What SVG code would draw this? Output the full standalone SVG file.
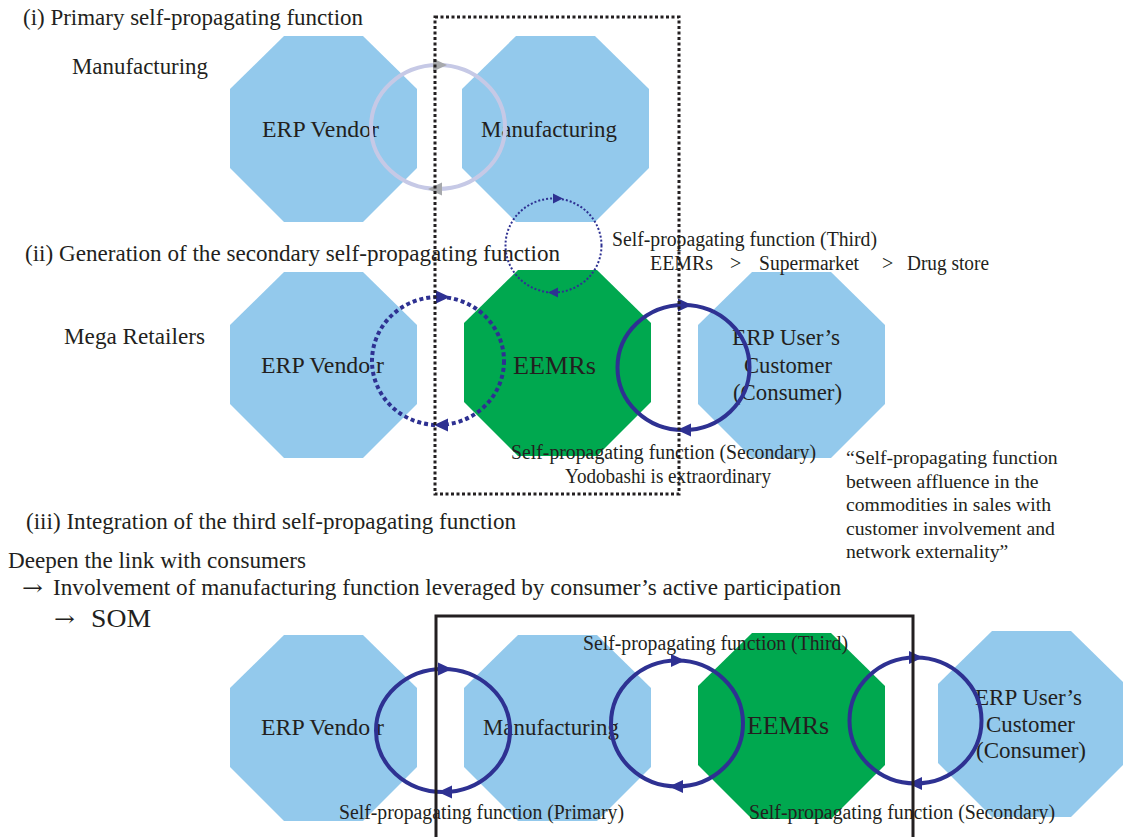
<svg xmlns="http://www.w3.org/2000/svg" xmlns:xlink="http://www.w3.org/1999/xlink" width="1123" height="837" viewBox="0 0 1123 837">
<style>
.oct-b{fill:#93c9ec}
.oct-g{fill:#00a84f}
text{font-family:"Liberation Serif","Times New Roman",serif;fill:#231f20}
.arw{font-family:"DejaVu Serif","Liberation Serif",serif;font-size:21px}
.h{font-size:23px}
.n{font-size:23px}
.e{font-size:26px}
.s{font-size:20px}
.q{font-size:19.7px}
.cyc{fill:none;stroke:#2e3192;stroke-width:4}
.dot1{fill:none;stroke:#2e3192;stroke-width:4;stroke-dasharray:4 3}
.dot2{fill:none;stroke:#2e3192;stroke-width:2;stroke-dasharray:2 2}
.lav{fill:none;stroke:#c6c9e6;stroke-width:4}
.ah{fill:#2e3192}
.ahg{fill:#a7a9ac}
</style>
<defs>
<path id="oct" d="M54,0 L133,0 L187,53 L187,132 L133,186 L54,186 L0,132 L0,53 Z"/>
<path id="ar" d="M7,0 L-7,-6.5 L-7,6.5 Z"/>
<path id="al" d="M-7,0 L7,-6.5 L7,6.5 Z"/>
<path id="ars" d="M5,0 L-5,-5 L-5,5 Z"/>
<path id="als" d="M-5,0 L5,-5 L5,5 Z"/>
</defs>
<rect width="1123" height="837" fill="#ffffff"/>

<!-- Row 1 -->
<g id="n1-erp-vendor">
<use xlink:href="#oct" href="#oct" class="oct-b" x="230" y="36"/>
<text class="n" x="262" y="137" textLength="117" lengthAdjust="spacingAndGlyphs">ERP Vendor</text>
</g>
<g id="n1-manufacturing">
<use xlink:href="#oct" href="#oct" class="oct-b" x="462" y="36"/>
<text class="n" x="481" y="137" textLength="136" lengthAdjust="spacingAndGlyphs">Manufacturing</text>
</g>

<!-- Row 2 -->
<g id="n2-erp-vendor">
<use xlink:href="#oct" href="#oct" class="oct-b" x="230" y="272"/>
<text class="n" x="261" y="373" textLength="123" lengthAdjust="spacingAndGlyphs">ERP Vendo r</text>
</g>
<g id="n2-eemrs">
<use xlink:href="#oct" href="#oct" class="oct-g" x="464" y="270"/>
<text class="e" x="513" y="374" textLength="83" lengthAdjust="spacingAndGlyphs">EEMRs</text>
</g>
<g id="n2-customer">
<use xlink:href="#oct" href="#oct" class="oct-b" x="698" y="272"/>
<text class="n" x="732" y="345" textLength="108" lengthAdjust="spacingAndGlyphs">ERP User’s</text>
<text class="n" x="744" y="373" textLength="88" lengthAdjust="spacingAndGlyphs">Customer</text>
<text class="n" x="733" y="400" textLength="109" lengthAdjust="spacingAndGlyphs">(Consumer)</text>
</g>

<!-- Row 3 -->
<g id="n3-erp-vendor">
<use xlink:href="#oct" href="#oct" class="oct-b" x="230" y="635"/>
<text class="n" x="261" y="735" textLength="123" lengthAdjust="spacingAndGlyphs">ERP Vendo r</text>
</g>
<g id="n3-manufacturing">
<use xlink:href="#oct" href="#oct" class="oct-b" x="464" y="635"/>
<text class="n" x="483" y="735" textLength="136" lengthAdjust="spacingAndGlyphs">Manufacturing</text>
</g>
<g id="n3-eemrs">
<use xlink:href="#oct" href="#oct" class="oct-g" x="698" y="633"/>
<text class="e" x="747" y="734" textLength="82" lengthAdjust="spacingAndGlyphs">EEMRs</text>
</g>
<g id="n3-customer">
<use xlink:href="#oct" href="#oct" class="oct-b" x="938" y="631"/>
<text class="n" x="975" y="705" textLength="107" lengthAdjust="spacingAndGlyphs">ERP User’s</text>
<text class="n" x="986" y="732" textLength="89" lengthAdjust="spacingAndGlyphs">Customer</text>
<text class="n" x="976" y="758" textLength="110" lengthAdjust="spacingAndGlyphs">(Consumer)</text>
</g>

<!-- Connectors (self-propagating cycles) -->
<g id="connectors">
<ellipse class="lav" cx="438" cy="127" rx="67" ry="62"/>
<use xlink:href="#ar" href="#ar" class="ahg" x="440" y="65"/>
<use xlink:href="#al" href="#al" class="ahg" x="435" y="189"/>

<ellipse class="dot2" cx="553.5" cy="245.5" rx="48" ry="47"/>
<use xlink:href="#ars" href="#ars" class="ah" x="558" y="198.5"/>
<use xlink:href="#als" href="#als" class="ah" x="553" y="292.5"/>

<ellipse class="dot1" cx="438" cy="361" rx="66" ry="64"/>
<use xlink:href="#ar" href="#ar" class="ah" x="443" y="297"/>
<use xlink:href="#al" href="#al" class="ah" x="441" y="425"/>

<ellipse class="cyc" cx="683.5" cy="367.5" rx="66" ry="62.5"/>
<use xlink:href="#ar" href="#ar" class="ah" x="685" y="305"/>
<use xlink:href="#al" href="#al" class="ah" x="684" y="430"/>

<ellipse class="cyc" cx="443" cy="730.5" rx="67" ry="61.5"/>
<use xlink:href="#ar" href="#ar" class="ah" x="445" y="669"/>
<use xlink:href="#al" href="#al" class="ah" x="445" y="792"/>

<ellipse class="cyc" cx="677" cy="723.5" rx="66" ry="63"/>
<use xlink:href="#ar" href="#ar" class="ah" x="678" y="660.5"/>
<use xlink:href="#al" href="#al" class="ah" x="676" y="786.5"/>

<ellipse class="cyc" cx="915.5" cy="720.5" rx="66" ry="63"/>
<use xlink:href="#ar" href="#ar" class="ah" x="916" y="657.5"/>
<use xlink:href="#al" href="#al" class="ah" x="915" y="783.5"/>
</g>

<!-- Labels -->
<g id="labels">
<text class="h" x="23" y="25" textLength="340" lengthAdjust="spacingAndGlyphs">(i) Primary self-propagating function</text>
<text class="h" x="72" y="74" textLength="136" lengthAdjust="spacingAndGlyphs">Manufacturing</text>
<text class="h" x="25" y="261" textLength="535" lengthAdjust="spacingAndGlyphs">(ii) Generation of the secondary self-propagating function</text>
<text class="s" x="612" y="246" textLength="265" lengthAdjust="spacingAndGlyphs">Self-propagating function (Third)</text>
<text class="s" x="650" y="270" textLength="63" lengthAdjust="spacingAndGlyphs">EEMRs</text>
<text class="s" x="730" y="270">&gt;</text>
<text class="s" x="759" y="270" textLength="100" lengthAdjust="spacingAndGlyphs">Supermarket</text>
<text class="s" x="882" y="270">&gt;</text>
<text class="s" x="907" y="270" textLength="82" lengthAdjust="spacingAndGlyphs">Drug store</text>
<text class="h" x="64" y="344" textLength="141" lengthAdjust="spacingAndGlyphs">Mega Retailers</text>
<text class="s" x="511" y="459" textLength="305" lengthAdjust="spacingAndGlyphs">Self-propagating function (Secondary)</text>
<text class="s" x="565" y="483" textLength="206" lengthAdjust="spacingAndGlyphs">Yodobashi is extraordinary</text>
<text class="q" x="846" y="464">“Self-propagating function</text>
<text class="q" x="846" y="488">between affluence in the</text>
<text class="q" x="846" y="511">commodities in sales with</text>
<text class="q" x="846" y="535">customer involvement and</text>
<text class="q" x="846" y="558">network externality”</text>
<text class="h" x="26" y="529" textLength="490" lengthAdjust="spacingAndGlyphs">(iii) Integration of the third self-propagating function</text>
<text class="h" x="8" y="568" textLength="298" lengthAdjust="spacingAndGlyphs">Deepen the link with consumers</text>
<text class="arw" x="22" y="595" textLength="21" lengthAdjust="spacingAndGlyphs">→</text>
<text class="h" x="53" y="595" textLength="788" lengthAdjust="spacingAndGlyphs">Involvement of manufacturing function leveraged by consumer’s active participation</text>
<text class="arw" x="54" y="626" textLength="21" lengthAdjust="spacingAndGlyphs">→</text>
<text class="e" x="91" y="627" textLength="60" lengthAdjust="spacingAndGlyphs">SOM</text>
<text class="s" x="583" y="650" textLength="265" lengthAdjust="spacingAndGlyphs">Self-propagating function (Third)</text>
<text class="s" x="339" y="819" textLength="285" lengthAdjust="spacingAndGlyphs">Self-propagating function (Primary)</text>
<text class="s" x="749" y="819" textLength="306" lengthAdjust="spacingAndGlyphs">Self-propagating function (Secondary)</text>
</g>

<!-- Frames -->
<g id="frames">
<rect x="435" y="17" width="244" height="477" fill="none" stroke="#231f20" stroke-width="3" stroke-dasharray="3 2.5"/>
<path d="M436,840 L436,616 L913,616 L913,840" fill="none" stroke="#231f20" stroke-width="3"/>
</g>
</svg>
